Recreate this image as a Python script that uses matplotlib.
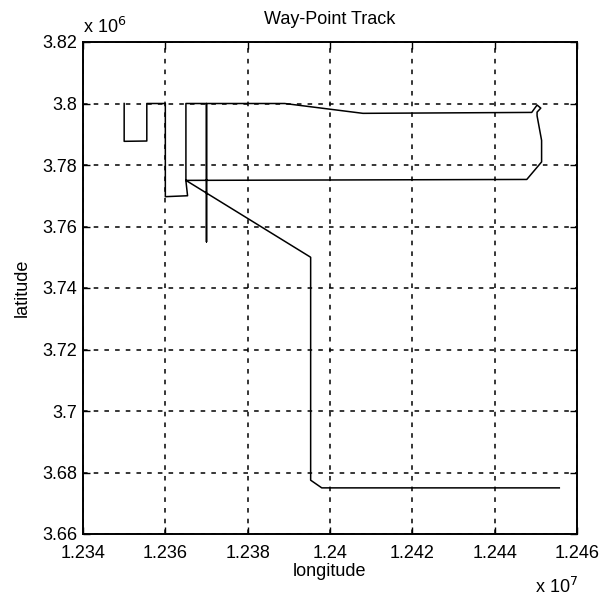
import numpy as np
import matplotlib
matplotlib.use("Agg")
import matplotlib.pyplot as plt
from matplotlib.ticker import FuncFormatter

plt.rcParams['font.family'] = ['Liberation Sans', 'DejaVu Sans']

# way-point track, longitude in units of 1e7, latitude in units of 1e6
lon = [1.2350, 1.2350, 1.23555, 1.23555, 1.2360, 1.2360, 1.23654, 1.2365, 1.2365,
       1.2370, 1.2370, 1.2370, 1.2389, 1.2408, 1.2449, 1.24503, 1.24512, 1.24503,
       1.24503, 1.24514, 1.24514, 1.24478, 1.2365, 1.23953, 1.23953, 1.2398,
       1.24557]
lat = [3.8000, 3.7877, 3.7878, 3.8000, 3.8000, 3.7697, 3.7700, 3.7748, 3.8000,
       3.8000, 3.7550, 3.8000, 3.8000, 3.7968, 3.7971, 3.7995, 3.7985, 3.7972,
       3.7960, 3.7880, 3.7810, 3.7753, 3.7750, 3.7500, 3.6775, 3.6750,
       3.6750]
xticks = [1.234, 1.236, 1.238, 1.240, 1.242, 1.244, 1.246]
yticks = [3.66, 3.68, 3.70, 3.72, 3.74, 3.76, 3.78, 3.80, 3.82]

lon = np.array(lon) * 1e7
lat = np.array(lat) * 1e6

fig = plt.figure(figsize=(6.02, 6.0), dpi=100)
ax = fig.add_axes([83 / 602, 1 - 534 / 600, 494 / 602, 492 / 600])
ax.plot(lon, lat, color='black', lw=1.1)

ax.set_xlim(xticks[0] * 1e7, xticks[-1] * 1e7)
ax.set_ylim(yticks[0] * 1e6, yticks[-1] * 1e6)
ax.set_xticks([t * 1e7 for t in xticks])
ax.set_yticks([t * 1e6 for t in yticks])
ax.xaxis.set_major_formatter(FuncFormatter(lambda v, p: '%g' % round(v / 1e7, 4)))
ax.yaxis.set_major_formatter(FuncFormatter(lambda v, p: '%g' % round(v / 1e6, 4)))
ax.tick_params(direction='in', length=5, width=1, labelsize=13,
               top=True, right=True)
ax.tick_params(axis='x', pad=8)
ax.tick_params(axis='y', pad=4)
ax.grid(True, color='black', linestyle=(0, (3, 4)), lw=1.1)
for s in ax.spines.values():
    s.set_linewidth(1.4)

ax.set_title('Way-Point Track', fontsize=13, pad=13)
ax.set_xlabel('longitude', fontsize=13, labelpad=1)
ax.set_ylabel('latitude', fontsize=13, labelpad=8)
fig.text(83 / 602, 1 - 27 / 600, r'x 10$^6$', fontsize=13, va='center')
fig.text(535 / 602, 1 - 587 / 600, r'x 10$^7$', fontsize=13, va='center')

fig.savefig('out.png', dpi=100)
